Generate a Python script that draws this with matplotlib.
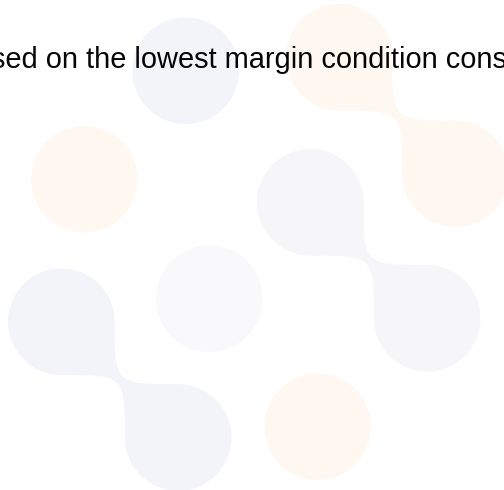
import matplotlib
matplotlib.use("Agg")
import matplotlib.pyplot as plt
from matplotlib.patches import Circle, PathPatch
from matplotlib.path import Path

W, H = 504, 490
R = 53.3

# single blobs: centre x, centre y, colour
single_x = [185.7, 84.2, 209.3, 317.7]
single_y = [70.7, 179.3, 298.7, 426.7]
single_c = ["#f3f4f9", "#fff8f1", "#f9f9fb", "#fff8f1"]

# linked blobs: top centre, bottom centre, colour
pair_a = [(339.0, 57.3), (310.3, 202.3), (61.3, 321.7)]
pair_b = [(455.5, 173.8), (427.2, 318.3), (178.2, 437.5)]
pair_c = ["#fff8f1", "#f6f6f8", "#f3f4f9"]

caption = "sed on the lowest margin condition cons"


def neck(a, b, r):
    ax_, ay = a
    bx, by = b
    c1 = (ax_ + r, by - r)
    c2 = (bx - r, ay + r)
    verts = [(ax_ + r, ay), c1, c1, (bx, by - r), (bx, by), (bx - r, by),
             c2, c2, (ax_, ay + r), (ax_, ay), (ax_ + r, ay)]
    codes = [Path.MOVETO, Path.CURVE4, Path.CURVE4, Path.CURVE4, Path.LINETO,
             Path.LINETO, Path.CURVE4, Path.CURVE4, Path.CURVE4, Path.LINETO,
             Path.CLOSEPOLY]
    return Path(verts, codes)


fig = plt.figure(figsize=(W / 100, H / 100), dpi=100)
ax = fig.add_axes([0, 0, 1, 1])
ax.set_xlim(0, W)
ax.set_ylim(H, 0)
ax.axis("off")

for x, y, c in zip(single_x, single_y, single_c):
    ax.add_patch(Circle((x, y), R, fc=c, ec="none", zorder=1))

for a, b, c in zip(pair_a, pair_b, pair_c):
    ax.add_patch(Circle(a, R, fc=c, ec="none", zorder=1))
    ax.add_patch(Circle(b, R, fc=c, ec="none", zorder=1))
    ax.add_patch(PathPatch(neck(a, b, R), fc=c, ec="none", zorder=1))

# the caption runs off both edges, as in the source image
ax.text(-9, 68.3, caption, fontsize=20.9, family="Liberation Sans",
        color="#050505", va="baseline", ha="left", zorder=3)

fig.savefig("out.png", dpi=100)
